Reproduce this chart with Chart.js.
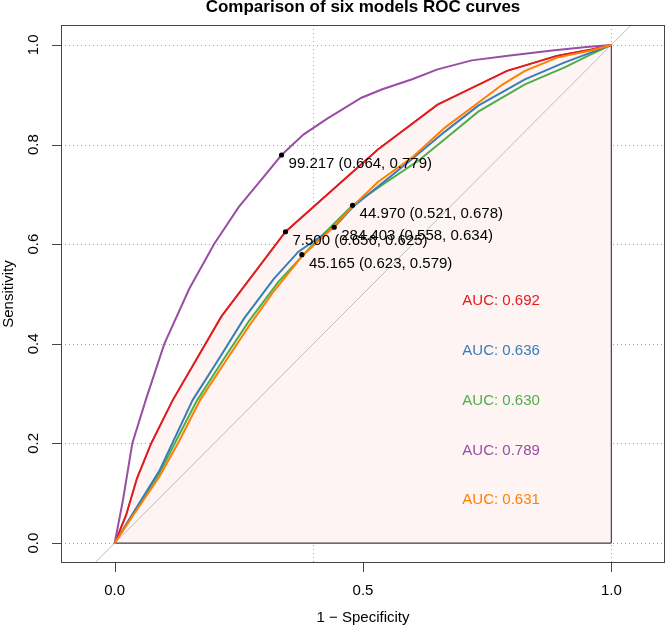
<!DOCTYPE html>
<html>
<head>
<meta charset="utf-8">
<script src="https://cdn.jsdelivr.net/npm/chart.js@4/dist/chart.umd.min.js"></script>
<style>
    body { margin: 0; background: #ffffff; }
    #wrap { width: 669px; height: 626px; }
</style>
</head>
<body>
<div id="wrap"><canvas id="roc_chart" width="669" height="626"></canvas></div>
<script>
// ROC curves, x = 1 - specificity, y = sensitivity
const red_fpr = [0, 0.023, 0.045, 0.0735, 0.117, 0.215, 0.344, 0.53, 0.65, 0.79, 0.89, 0.96, 1];
const red_tpr = [0, 0.056, 0.13, 0.2, 0.287, 0.455, 0.625, 0.79, 0.88, 0.948, 0.978, 0.991, 1];

const blue_fpr = [0, 0.04, 0.09, 0.157, 0.21, 0.26, 0.32, 0.37, 0.442, 0.48, 0.6, 0.665, 0.732, 0.826, 0.906, 0.96, 1];
const blue_tpr = [0, 0.065, 0.145, 0.287, 0.37, 0.45, 0.53, 0.585, 0.634, 0.675, 0.772, 0.826, 0.878, 0.931, 0.965, 0.985, 1];

const green_fpr = [0, 0.04, 0.09, 0.165, 0.22, 0.27, 0.33, 0.4, 0.479, 0.54, 0.612, 0.67, 0.732, 0.826, 0.906, 0.959, 1];
const green_tpr = [0, 0.062, 0.14, 0.285, 0.37, 0.445, 0.525, 0.6, 0.678, 0.72, 0.768, 0.815, 0.866, 0.921, 0.955, 0.981, 1];

const purple_fpr = [0, 0.0167, 0.0355, 0.0635, 0.1, 0.15, 0.2, 0.25, 0.3, 0.336, 0.38, 0.428, 0.497, 0.539, 0.599, 0.65, 0.719, 0.796, 0.881, 0.95, 1];
const purple_tpr = [0, 0.086, 0.2, 0.29, 0.4, 0.51, 0.6, 0.675, 0.735, 0.779, 0.82, 0.852, 0.894, 0.911, 0.931, 0.951, 0.969, 0.979, 0.989, 0.996, 1];

const orange_fpr = [0, 0.04, 0.09, 0.13, 0.172, 0.22, 0.27, 0.32, 0.378, 0.44, 0.48, 0.53, 0.6, 0.665, 0.732, 0.78, 0.826, 0.892, 0.959, 1];
const orange_tpr = [0, 0.06, 0.133, 0.205, 0.287, 0.36, 0.435, 0.505, 0.577, 0.634, 0.677, 0.725, 0.775, 0.834, 0.884, 0.92, 0.948, 0.975, 0.989, 1];

// best thresholds: label, specificity, sensitivity
const thres_labels = ['99.217', '7.500', '44.970', '284.403', '45.165'];
const thres_spec = [0.664, 0.656, 0.521, 0.558, 0.623];
const thres_sens = [0.779, 0.625, 0.678, 0.634, 0.579];

const auc_labels = ['AUC: 0.692', 'AUC: 0.636', 'AUC: 0.630', 'AUC: 0.789', 'AUC: 0.631'];
const auc_y = [0.486, 0.386, 0.286, 0.186, 0.086];
const auc_x = 0.70;

const x_ticks = [0, 0.5, 1];
const x_tick_labels = ['0.0', '0.5', '1.0'];
const y_ticks = [0, 0.2, 0.4, 0.6, 0.8, 1];
const y_tick_labels = ['0.0', '0.2', '0.4', '0.6', '0.8', '1.0'];
const x_grid = [0.4, 1];
const y_grid = [0, 0.2, 0.4, 0.6, 0.8, 1];

const col_red = '#E41A1C';
const col_blue = '#377EB8';
const col_green = '#4DAF4A';
const col_purple = '#984EA3';
const col_orange = '#FF7F00';
const auc_colors = [col_red, col_blue, col_green, col_purple, col_orange];
const font_family = '"Liberation Sans", Arial, sans-serif';

function to_points(xs, ys) {
    return xs.map((x, i) => ({x: x, y: ys[i]}));
}

function curve(data, color, order) {
    return {
        data: data,
        showLine: true,
        borderColor: color,
        borderWidth: 2,
        pointRadius: 0,
        fill: false,
        tension: 0,
        order: order,
    };
}

// auc polygon sits under the red curve, closed down the right side
const polygon_data = to_points(red_fpr, red_tpr).concat([{x: 1, y: 0}]);
const thres_points = thres_spec.map((s, i) => ({x: 1 - s, y: thres_sens[i]}));

const r_axes = {
    id: 'r_axes',
    beforeDatasetsDraw(chart) {
        const ctx = chart.ctx;
        const xs = chart.scales.x, ys = chart.scales.y;
        const a = chart.chartArea;
        ctx.save();
        ctx.strokeStyle = '#a0a0a0';
        ctx.lineWidth = 1;
        ctx.setLineDash([1, 3]);
        y_grid.forEach(v => {
            const py = Math.round(ys.getPixelForValue(v)) + 0.5;
            ctx.beginPath(); ctx.moveTo(a.left, py); ctx.lineTo(a.right, py); ctx.stroke();
        });
        x_grid.forEach(v => {
            const px = Math.round(xs.getPixelForValue(v)) + 0.5;
            ctx.beginPath(); ctx.moveTo(px, a.top); ctx.lineTo(px, a.bottom); ctx.stroke();
        });
        ctx.restore();
    },
    afterDatasetsDraw(chart) {
        const ctx = chart.ctx;
        const xs = chart.scales.x, ys = chart.scales.y;
        const a = chart.chartArea;
        ctx.save();
        // box
        ctx.strokeStyle = '#444444';
        ctx.lineWidth = 1;
        ctx.strokeRect(a.left + 0.5, a.top + 0.5, a.right - a.left - 1, a.bottom - a.top - 1);

        // ticks
        ctx.beginPath();
        x_ticks.forEach(v => {
            const px = Math.round(xs.getPixelForValue(v)) + 0.5;
            ctx.moveTo(px, a.bottom); ctx.lineTo(px, a.bottom + 9);
        });
        y_ticks.forEach(v => {
            const py = Math.round(ys.getPixelForValue(v)) + 0.5;
            ctx.moveTo(a.left, py); ctx.lineTo(a.left - 9, py);
        });
        ctx.stroke();

        ctx.fillStyle = '#000000';
        ctx.font = '15px ' + font_family;
        ctx.textAlign = 'center';
        ctx.textBaseline = 'middle';
        x_ticks.forEach((v, i) => {
            ctx.fillText(x_tick_labels[i], xs.getPixelForValue(v), 591);
        });
        ctx.fillText('1 \u2212 Specificity', (a.left + a.right) / 2, 618);
        y_ticks.forEach((v, i) => {
            ctx.save();
            ctx.translate(34, ys.getPixelForValue(v));
            ctx.rotate(-Math.PI / 2);
            ctx.fillText(y_tick_labels[i], 0, 0);
            ctx.restore();
        });
        ctx.save();
        ctx.translate(9, (a.top + a.bottom) / 2);
        ctx.rotate(-Math.PI / 2);
        ctx.fillText('Sensitivity', 0, 0);
        ctx.restore();

        // title
        ctx.font = 'bold 17px ' + font_family;
        ctx.textBaseline = 'alphabetic';
        ctx.fillText('Comparison of six models ROC curves', (a.left + a.right) / 2, 12);

        // threshold labels
        ctx.font = '15px ' + font_family;
        ctx.textAlign = 'left';
        ctx.textBaseline = 'middle';
        thres_points.forEach((p, i) => {
            const txt = thres_labels[i] + ' (' + thres_spec[i].toFixed(3) + ', ' + thres_sens[i].toFixed(3) + ')';
            ctx.fillText(txt, xs.getPixelForValue(p.x) + 7, ys.getPixelForValue(p.y) + 9);
        });

        // AUC texts
        auc_labels.forEach((t, i) => {
            ctx.fillStyle = auc_colors[i];
            ctx.fillText(t, xs.getPixelForValue(auc_x), ys.getPixelForValue(auc_y[i]));
        });
        ctx.restore();
    }
};

const roc_chart = new Chart(document.getElementById('roc_chart'), {
    type: 'scatter',
    data: {
        datasets: [
            {
                data: thres_points,
                showLine: false,
                pointRadius: 2.6,
                pointBackgroundColor: '#000000',
                pointBorderWidth: 0,
                order: 0,
            },
            curve(to_points(orange_fpr, orange_tpr), col_orange, 1),
            curve(to_points(purple_fpr, purple_tpr), col_purple, 2),
            curve(to_points(red_fpr, red_tpr), col_red, 3),
            curve(to_points(blue_fpr, blue_tpr), col_blue, 4),
            curve(to_points(green_fpr, green_tpr), col_green, 5),
            {
                data: [{x: -0.2, y: -0.2}, {x: 1.2, y: 1.2}],
                showLine: true,
                borderColor: '#bdbdbd',
                borderWidth: 1,
                pointRadius: 0,
                order: 9,
            },
            {
                // bottom edge of the polygon
                data: [{x: 0, y: 0}, {x: 1, y: 0}],
                showLine: true,
                borderColor: '#444444',
                borderWidth: 1.2,
                pointRadius: 0,
                order: 8,
            },
            {
                data: polygon_data,
                showLine: true,
                borderColor: '#444444',
                borderWidth: 1.2,
                backgroundColor: '#fef4f4',
                pointRadius: 0,
                fill: 'origin',
                order: 10,
            },
        ]
    },
    options: {
        responsive: false,
        animation: false,
        layout: {
            padding: {left: 61, right: 1, top: 25, bottom: 63}
        },
        scales: {
            x: {type: 'linear', min: -0.108, max: 1.108, display: false},
            y: {type: 'linear', min: -0.04, max: 1.04, display: false},
        },
        plugins: {
            legend: {display: false},
            tooltip: {enabled: false},
        }
    },
    plugins: [r_axes]
});
</script>
</body>
</html>
